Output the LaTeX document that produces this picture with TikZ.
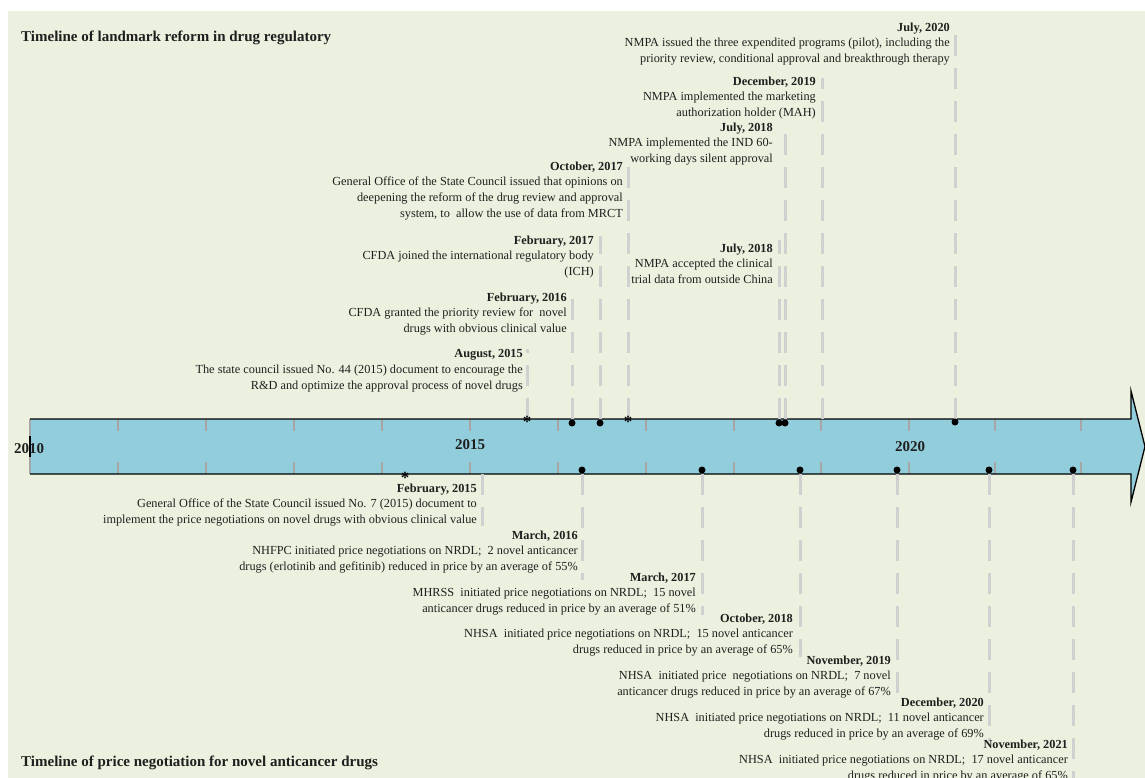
\documentclass[tikz,border=0pt]{standalone}
\usepackage{fontspec}
\setmainfont{Liberation Serif}
\definecolor{bgc}{HTML}{EBF1DE}
\definecolor{bandc}{HTML}{92CDDC}
\definecolor{dashc}{HTML}{D0D0D0}
\definecolor{tickc}{HTML}{A6A6A6}
\definecolor{txtc}{HTML}{1F1F1F}
\begin{document}
\begin{tikzpicture}[x=1pt,y=-1pt,
  evt/.style={align=right, inner sep=0pt, anchor=north east, font=\fontsize{12.3}{15.6}\selectfont, text=txtc},
  conn/.style={draw=dashc, line width=3pt, dash pattern=on 21pt off 12pt},
  tickm/.style={draw=tickc, line width=2.5pt},
  dotm/.style={circle, fill=black, inner sep=0pt, minimum size=7pt},
  starm/.style={inner sep=0pt, anchor=base, font=\bfseries\fontsize{17}{17}\selectfont},
  yearl/.style={font=\bfseries\fontsize{15}{15}\selectfont, inner sep=0pt, text=txtc},
  titl/.style={font=\bfseries\fontsize{15}{15}\selectfont, anchor=base west, inner sep=0pt, text=txtc}]
\useasboundingbox (0,0) rectangle (1145,778);
\fill[white] (0,0) rectangle (1145,778);
\fill[bgc] (8,11) rectangle (1145,778);

% band
\fill[bandc] (30,419) -- (1131,419) -- (1131,391) -- (1145,446.5) -- (1131,502) -- (1131,474) -- (30,474) -- cycle;
\draw[tickm] (30,419) -- (30,474);
\foreach \xx in {118,206,294,382,470,558,646,734,821,909,995,1081}{
  \draw[tickm] (\xx,419) -- (\xx,431);
  \draw[tickm] (\xx,462) -- (\xx,474);
}
\draw[black, line width=1.3pt] (30,419) -- (1131,419) -- (1131,391) -- (1145,446.5) -- (1131,502) -- (1131,474) -- (30,474);
\draw[black, line width=1.5pt] (30,436) -- (30,457);

% connector end points
\coordinate (a1) at (955,419); \coordinate (t1) at (955,24);
\coordinate (a2) at (822,419); \coordinate (t2) at (822,78);
\coordinate (a3) at (785,419); \coordinate (t3) at (785,128);
\coordinate (a4) at (628,419); \coordinate (t4) at (628,162);
\coordinate (a5) at (779,419); \coordinate (t5) at (779,240);
\coordinate (a6) at (600,419); \coordinate (t6) at (600,236);
\coordinate (a7) at (572,419); \coordinate (t7) at (572,292);
\coordinate (a8) at (527,419); \coordinate (t8) at (527,349);
\coordinate (c1) at (482,474); \coordinate (d1) at (482,526);
\coordinate (c2) at (582,474); \coordinate (d2) at (582,580);
\coordinate (c3) at (702,474); \coordinate (d3) at (702,615);
\coordinate (c4) at (800,474); \coordinate (d4) at (800,657);
\coordinate (c5) at (897,474); \coordinate (d5) at (897,700);
\coordinate (c6) at (989,474); \coordinate (d6) at (989,742);
\coordinate (c7) at (1073,474); \coordinate (d7) at (1073,778);
\foreach \i in {1,...,8}{ \draw[conn] (a\i) -- (t\i); }
\foreach \i in {1,...,7}{ \draw[conn] (c\i) -- (d\i); }

% markers
\node[starm] (s1) at (527,427.5) {\smash{*}};
\node[dotm] (m1) at (572,423) {};
\node[dotm] (m2) at (600,423) {};
\node[starm] (s2) at (628,427.5) {\smash{*}};
\node[dotm] (m3) at (779,423) {};
\node[dotm] (m4) at (785,423) {};
\node[dotm] (m5) at (955,422) {};
\node[starm] (s3) at (405,483) {\smash{*}};
\node[dotm] (n1) at (582,470) {};
\node[dotm] (n2) at (702,470) {};
\node[dotm] (n3) at (800,470) {};
\node[dotm] (n4) at (897,470) {};
\node[dotm] (n5) at (989,470) {};
\node[dotm] (n6) at (1073,470) {};

% years
\node[yearl] (y2010) at (29,449) {2010};
\node[yearl] (y2015) at (470,445) {2015};
\node[yearl] (y2020) at (910,447) {2020};

% titles
\node[titl] (ttop) at (21,42) {Timeline of landmark reform in drug regulatory};
\node[titl] (tbot) at (21,766) {Timeline of price negotiation for novel anticancer drugs};

% top events
\node[evt] (e1) at (950,22.5) {\textbf{July, 2020}\\NMPA issued the three expendited programs (pilot), including the\\priority review, conditional approval and breakthrough therapy};
\node[evt] (e2) at (816,76.5) {\textbf{December, 2019}\\NMPA implemented the marketing\\authorization holder (MAH)};
\node[evt] (e3) at (773,122.5) {\textbf{July, 2018}\\NMPA implemented the IND 60-\\working days silent approval};
\node[evt] (e4) at (623,161.5) {\textbf{October, 2017}\\General Office of the State Council issued that opinions on\\deepening the reform of the drug review and approval\\system, to~ allow the use of data from MRCT};
\node[evt] (e5) at (773,243.5) {\textbf{July, 2018}\\NMPA accepted the clinical\\trial data from outside China};
\node[evt] (e6) at (594,235.5) {\textbf{February, 2017}\\CFDA joined the international regulatory body\\(ICH)};
\node[evt] (e7) at (567,292.5) {\textbf{February, 2016}\\CFDA granted the priority review for~ novel\\drugs with obvious clinical value};
\node[evt] (e8) at (523,349.5) {\textbf{August, 2015}\\The state council issued No. 44 (2015) document to encourage the\\R\&D and optimize the approval process of novel drugs};

% bottom events
\node[evt] (b1) at (477,483.5) {\textbf{February, 2015}\\General Office of the State Council issued No. 7 (2015) document to\\implement the price negotiations on novel drugs with obvious clinical value};
\node[evt] (b2) at (578,530.5) {\textbf{March, 2016}\\NHFPC initiated price negotiations on NRDL;~ 2 novel anticancer\\drugs (erlotinib and gefitinib) reduced in price by an average of 55\%};
\node[evt] (b3) at (696,572.5) {\textbf{March, 2017}\\MHRSS~ initiated price negotiations on NRDL;~ 15 novel\\anticancer drugs reduced in price by an average of 51\%};
\node[evt] (b4) at (793,613.5) {\textbf{October, 2018}\\NHSA~ initiated price negotiations on NRDL;~ 15 novel anticancer\\drugs reduced in price by an average of 65\%};
\node[evt] (b5) at (891,655.5) {\textbf{November, 2019}\\NHSA~ initiated price~ negotiations on NRDL;~ 7 novel\\anticancer drugs reduced in price by an average of 67\%};
\node[evt] (b6) at (984,697.5) {\textbf{December, 2020}\\NHSA~ initiated price negotiations on NRDL;~ 11 novel anticancer\\drugs reduced in price by an average of 69\%};
\node[evt] (b7) at (1068,739.5) {\textbf{November, 2021}\\NHSA~ initiated price negotiations on NRDL;~ 17 novel anticancer\\drugs reduced in price by an average of 65\%};
\end{tikzpicture}
\end{document}
